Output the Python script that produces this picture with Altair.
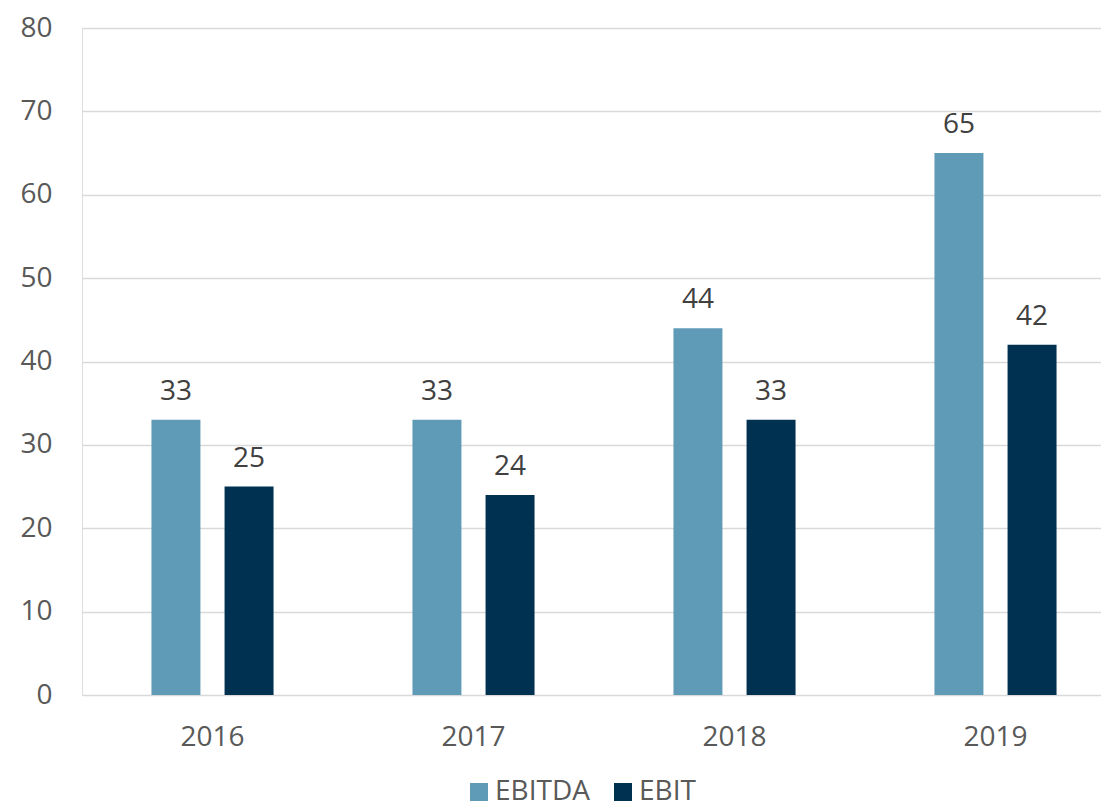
import altair as alt
import pandas as pd

years = ["2016", "2017", "2018", "2019"]
ebitda = [33, 33, 44, 65]
ebit = [25, 24, 33, 42]
series = ["EBITDA", "EBIT"]
colors = ["#5f9bb6", "#003150"]

rows = []
for i, y in enumerate(years):
    rows.append({"year": y, "series": "EBITDA", "value": ebitda[i]})
    rows.append({"year": y, "series": "EBIT", "value": ebit[i]})
df = pd.DataFrame(rows)

FONT = "Open Sans"
GREY = "#595959"

x = alt.X("year:N", title=None, sort=years,
          scale=alt.Scale(range=[0, 1044], paddingInner=0, paddingOuter=0),
          axis=alt.Axis(labelAngle=0, ticks=False, domain=False, grid=False,
                        labelFontSize=28, labelColor=GREY, labelFont=FONT,
                        labelPadding=28))
xo = alt.XOffset("series:N", sort=series,
                 scale=alt.Scale(paddingInner=0.33, paddingOuter=0.95))
y = alt.Y("value:Q", title=None,
          scale=alt.Scale(domain=[0, 80], nice=False),
          axis=alt.Axis(values=list(range(0, 81, 10)), ticks=False, domain=False,
                        labelFontSize=28, labelColor=GREY, labelFont=FONT,
                        labelPadding=30, gridColor="#d9d9d9", gridWidth=1.5))

color = alt.Color("series:N", sort=series,
                  scale=alt.Scale(domain=series, range=colors),
                  legend=alt.Legend(title=None, orient="none", direction="horizontal",
                                    legendX=383, legendY=750, symbolType="square",
                                    symbolSize=324, symbolStrokeWidth=0,
                                    labelFontSize=28, labelColor=GREY, labelFont=FONT,
                                    columnPadding=19, labelOffset=2))

bars = alt.Chart(df).mark_bar().encode(x=x, xOffset=xo, y=y, color=color)
labels = alt.Chart(df).mark_text(dy=-20, baseline="alphabetic", fontSize=28,
                                 font=FONT, color="#404040").encode(
    x=x, xOffset=xo, y=y, text=alt.Text("value:Q"))

chart = (bars + labels).properties(
    width=1019, height=667,
    autosize=alt.AutoSizeParams(type="none"),
    padding={"left": 74, "top": 20, "right": 0, "bottom": 108},
).configure_view(stroke=None).configure(background="white")

chart.save("out.html", embed_options={"renderer": "svg", "actions": False})
